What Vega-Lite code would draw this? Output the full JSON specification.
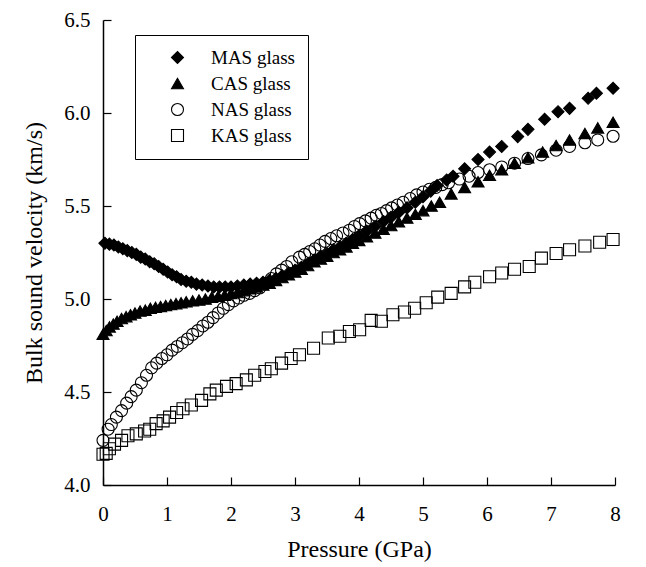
{
  "$schema": "https://vega.github.io/schema/vega-lite/v6.json",
  "autosize": "none",
  "width": 512,
  "height": 465,
  "padding": {"left": 103, "top": 20, "right": 31, "bottom": 82},
  "background": "white",
  "config": {
    "view": {"stroke": null},
    "font": "Liberation Serif",
    "axis": {"grid": false, "domainColor": "black", "domainWidth": 1.5, "tickColor": "black", "tickWidth": 1.2, "tickSize": -8, "labelColor": "black", "titleColor": "black", "labelFont": "Liberation Serif", "titleFont": "Liberation Serif", "labelFontSize": 21, "titleFontSize": 24, "titleFontWeight": "normal"},
    "legend": {"title": null, "orient": "none", "legendX": 32, "legendY": 15, "strokeColor": "black", "padding": 13, "symbolOffset": 20, "labelOffset": 24, "labelFont": "Liberation Serif", "labelFontSize": 19, "labelColor": "black", "rowPadding": 6, "symbolSize": 144, "symbolStrokeColor": "black", "symbolStrokeWidth": 1.1, "fillColor": "white"}
  },
  "data": {"values": [
    {"s":"KAS glass","p":0.0,"v":4.165},{"s":"KAS glass","p":0.05,"v":4.17},{"s":"KAS glass","p":0.1,"v":4.195},{"s":"KAS glass","p":0.18,"v":4.22},{"s":"KAS glass","p":0.29,"v":4.24},{"s":"KAS glass","p":0.39,"v":4.265},{"s":"KAS glass","p":0.52,"v":4.275},{"s":"KAS glass","p":0.65,"v":4.29},{"s":"KAS glass","p":0.73,"v":4.3},{"s":"KAS glass","p":0.83,"v":4.33},{"s":"KAS glass","p":0.94,"v":4.345},{"s":"KAS glass","p":1.04,"v":4.365},{"s":"KAS glass","p":1.15,"v":4.39},{"s":"KAS glass","p":1.25,"v":4.41},{"s":"KAS glass","p":1.38,"v":4.43},{"s":"KAS glass","p":1.54,"v":4.455},{"s":"KAS glass","p":1.67,"v":4.49},{"s":"KAS glass","p":1.77,"v":4.51},{"s":"KAS glass","p":1.93,"v":4.53},{"s":"KAS glass","p":2.08,"v":4.545},{"s":"KAS glass","p":2.24,"v":4.565},{"s":"KAS glass","p":2.37,"v":4.59},{"s":"KAS glass","p":2.53,"v":4.61},{"s":"KAS glass","p":2.63,"v":4.625},{"s":"KAS glass","p":2.79,"v":4.655},{"s":"KAS glass","p":2.94,"v":4.68},{"s":"KAS glass","p":3.07,"v":4.7},{"s":"KAS glass","p":3.29,"v":4.735},{"s":"KAS glass","p":3.52,"v":4.79},{"s":"KAS glass","p":3.7,"v":4.8},{"s":"KAS glass","p":3.85,"v":4.825},{"s":"KAS glass","p":4.01,"v":4.835},{"s":"KAS glass","p":4.19,"v":4.885},{"s":"KAS glass","p":4.35,"v":4.88},{"s":"KAS glass","p":4.53,"v":4.915},{"s":"KAS glass","p":4.71,"v":4.93},{"s":"KAS glass","p":4.87,"v":4.95},{"s":"KAS glass","p":5.05,"v":4.98},{"s":"KAS glass","p":5.23,"v":5.01},{"s":"KAS glass","p":5.44,"v":5.03},{"s":"KAS glass","p":5.65,"v":5.065},{"s":"KAS glass","p":5.81,"v":5.09},{"s":"KAS glass","p":6.04,"v":5.12},{"s":"KAS glass","p":6.23,"v":5.14},{"s":"KAS glass","p":6.43,"v":5.16},{"s":"KAS glass","p":6.66,"v":5.175},{"s":"KAS glass","p":6.85,"v":5.22},{"s":"KAS glass","p":7.08,"v":5.245},{"s":"KAS glass","p":7.29,"v":5.265},{"s":"KAS glass","p":7.53,"v":5.285},{"s":"KAS glass","p":7.76,"v":5.305},{"s":"KAS glass","p":7.97,"v":5.32},

    {"s":"NAS glass","p":0.0,"v":4.24},{"s":"NAS glass","p":0.08,"v":4.3},{"s":"NAS glass","p":0.13,"v":4.325},{"s":"NAS glass","p":0.21,"v":4.365},{"s":"NAS glass","p":0.29,"v":4.4},{"s":"NAS glass","p":0.37,"v":4.44},{"s":"NAS glass","p":0.44,"v":4.475},{"s":"NAS glass","p":0.52,"v":4.51},{"s":"NAS glass","p":0.6,"v":4.55},{"s":"NAS glass","p":0.68,"v":4.59},{"s":"NAS glass","p":0.76,"v":4.63},{"s":"NAS glass","p":0.84,"v":4.655},{"s":"NAS glass","p":0.92,"v":4.68},{"s":"NAS glass","p":1.0,"v":4.7},{"s":"NAS glass","p":1.08,"v":4.725},{"s":"NAS glass","p":1.16,"v":4.745},{"s":"NAS glass","p":1.24,"v":4.765},{"s":"NAS glass","p":1.32,"v":4.785},{"s":"NAS glass","p":1.4,"v":4.81},{"s":"NAS glass","p":1.48,"v":4.83},{"s":"NAS glass","p":1.56,"v":4.855},{"s":"NAS glass","p":1.64,"v":4.875},{"s":"NAS glass","p":1.72,"v":4.9},{"s":"NAS glass","p":1.8,"v":4.925},{"s":"NAS glass","p":1.88,"v":4.95},{"s":"NAS glass","p":1.96,"v":4.97},{"s":"NAS glass","p":2.04,"v":4.99},{"s":"NAS glass","p":2.12,"v":5.005},{"s":"NAS glass","p":2.2,"v":5.02},{"s":"NAS glass","p":2.29,"v":5.03},{"s":"NAS glass","p":2.37,"v":5.045},{"s":"NAS glass","p":2.45,"v":5.06},{"s":"NAS glass","p":2.54,"v":5.085},{"s":"NAS glass","p":2.63,"v":5.11},{"s":"NAS glass","p":2.71,"v":5.135},{"s":"NAS glass","p":2.79,"v":5.155},{"s":"NAS glass","p":2.87,"v":5.175},{"s":"NAS glass","p":2.95,"v":5.2},{"s":"NAS glass","p":3.07,"v":5.225},{"s":"NAS glass","p":3.15,"v":5.24},{"s":"NAS glass","p":3.23,"v":5.255},{"s":"NAS glass","p":3.31,"v":5.27},{"s":"NAS glass","p":3.39,"v":5.29},{"s":"NAS glass","p":3.47,"v":5.31},{"s":"NAS glass","p":3.56,"v":5.325},{"s":"NAS glass","p":3.65,"v":5.34},{"s":"NAS glass","p":3.75,"v":5.355},{"s":"NAS glass","p":3.85,"v":5.37},{"s":"NAS glass","p":3.93,"v":5.39},{"s":"NAS glass","p":4.01,"v":5.405},{"s":"NAS glass","p":4.1,"v":5.42},{"s":"NAS glass","p":4.19,"v":5.435},{"s":"NAS glass","p":4.27,"v":5.45},{"s":"NAS glass","p":4.35,"v":5.46},{"s":"NAS glass","p":4.43,"v":5.475},{"s":"NAS glass","p":4.51,"v":5.49},{"s":"NAS glass","p":4.6,"v":5.505},{"s":"NAS glass","p":4.69,"v":5.52},{"s":"NAS glass","p":4.8,"v":5.54},{"s":"NAS glass","p":4.9,"v":5.56},{"s":"NAS glass","p":5.0,"v":5.575},{"s":"NAS glass","p":5.1,"v":5.59},{"s":"NAS glass","p":5.2,"v":5.6},{"s":"NAS glass","p":5.3,"v":5.615},{"s":"NAS glass","p":5.4,"v":5.625},{"s":"NAS glass","p":5.57,"v":5.645},{"s":"NAS glass","p":5.72,"v":5.66},{"s":"NAS glass","p":5.86,"v":5.68},{"s":"NAS glass","p":6.04,"v":5.695},{"s":"NAS glass","p":6.23,"v":5.71},{"s":"NAS glass","p":6.43,"v":5.73},{"s":"NAS glass","p":6.64,"v":5.755},{"s":"NAS glass","p":6.85,"v":5.775},{"s":"NAS glass","p":7.08,"v":5.8},{"s":"NAS glass","p":7.29,"v":5.82},{"s":"NAS glass","p":7.53,"v":5.84},{"s":"NAS glass","p":7.73,"v":5.855},{"s":"NAS glass","p":7.97,"v":5.875},

    {"s":"CAS glass","p":0.0,"v":4.81},{"s":"CAS glass","p":0.05,"v":4.83},{"s":"CAS glass","p":0.1,"v":4.85},{"s":"CAS glass","p":0.16,"v":4.865},{"s":"CAS glass","p":0.22,"v":4.88},{"s":"CAS glass","p":0.29,"v":4.895},{"s":"CAS glass","p":0.36,"v":4.905},{"s":"CAS glass","p":0.43,"v":4.915},{"s":"CAS glass","p":0.5,"v":4.925},{"s":"CAS glass","p":0.58,"v":4.935},{"s":"CAS glass","p":0.66,"v":4.94},{"s":"CAS glass","p":0.74,"v":4.95},{"s":"CAS glass","p":0.82,"v":4.955},{"s":"CAS glass","p":0.9,"v":4.96},{"s":"CAS glass","p":0.98,"v":4.965},{"s":"CAS glass","p":1.06,"v":4.97},{"s":"CAS glass","p":1.14,"v":4.975},{"s":"CAS glass","p":1.22,"v":4.98},{"s":"CAS glass","p":1.3,"v":4.985},{"s":"CAS glass","p":1.4,"v":4.99},{"s":"CAS glass","p":1.5,"v":4.995},{"s":"CAS glass","p":1.6,"v":5.0},{"s":"CAS glass","p":1.7,"v":5.01},{"s":"CAS glass","p":1.8,"v":5.015},{"s":"CAS glass","p":1.9,"v":5.02},{"s":"CAS glass","p":2.0,"v":5.03},{"s":"CAS glass","p":2.1,"v":5.035},{"s":"CAS glass","p":2.2,"v":5.045},{"s":"CAS glass","p":2.3,"v":5.055},{"s":"CAS glass","p":2.4,"v":5.065},{"s":"CAS glass","p":2.5,"v":5.075},{"s":"CAS glass","p":2.6,"v":5.085},{"s":"CAS glass","p":2.7,"v":5.1},{"s":"CAS glass","p":2.8,"v":5.115},{"s":"CAS glass","p":2.9,"v":5.13},{"s":"CAS glass","p":3.0,"v":5.145},{"s":"CAS glass","p":3.1,"v":5.16},{"s":"CAS glass","p":3.2,"v":5.18},{"s":"CAS glass","p":3.3,"v":5.2},{"s":"CAS glass","p":3.4,"v":5.215},{"s":"CAS glass","p":3.5,"v":5.23},{"s":"CAS glass","p":3.6,"v":5.25},{"s":"CAS glass","p":3.7,"v":5.265},{"s":"CAS glass","p":3.8,"v":5.28},{"s":"CAS glass","p":3.9,"v":5.3},{"s":"CAS glass","p":4.0,"v":5.315},{"s":"CAS glass","p":4.12,"v":5.335},{"s":"CAS glass","p":4.25,"v":5.355},{"s":"CAS glass","p":4.38,"v":5.375},{"s":"CAS glass","p":4.5,"v":5.395},{"s":"CAS glass","p":4.62,"v":5.415},{"s":"CAS glass","p":4.75,"v":5.435},{"s":"CAS glass","p":4.88,"v":5.455},{"s":"CAS glass","p":5.0,"v":5.475},{"s":"CAS glass","p":5.13,"v":5.5},{"s":"CAS glass","p":5.26,"v":5.52},{"s":"CAS glass","p":5.44,"v":5.565},{"s":"CAS glass","p":5.65,"v":5.6},{"s":"CAS glass","p":5.86,"v":5.63},{"s":"CAS glass","p":6.04,"v":5.665},{"s":"CAS glass","p":6.23,"v":5.695},{"s":"CAS glass","p":6.43,"v":5.73},{"s":"CAS glass","p":6.64,"v":5.76},{"s":"CAS glass","p":6.87,"v":5.79},{"s":"CAS glass","p":7.08,"v":5.825},{"s":"CAS glass","p":7.29,"v":5.855},{"s":"CAS glass","p":7.53,"v":5.89},{"s":"CAS glass","p":7.73,"v":5.92},{"s":"CAS glass","p":7.97,"v":5.95},

    {"s":"MAS glass","p":0.03,"v":5.3},{"s":"MAS glass","p":0.1,"v":5.295},{"s":"MAS glass","p":0.17,"v":5.29},{"s":"MAS glass","p":0.24,"v":5.28},{"s":"MAS glass","p":0.31,"v":5.27},{"s":"MAS glass","p":0.38,"v":5.26},{"s":"MAS glass","p":0.45,"v":5.25},{"s":"MAS glass","p":0.52,"v":5.24},{"s":"MAS glass","p":0.59,"v":5.225},{"s":"MAS glass","p":0.66,"v":5.215},{"s":"MAS glass","p":0.73,"v":5.2},{"s":"MAS glass","p":0.8,"v":5.19},{"s":"MAS glass","p":0.87,"v":5.175},{"s":"MAS glass","p":0.94,"v":5.16},{"s":"MAS glass","p":1.01,"v":5.145},{"s":"MAS glass","p":1.08,"v":5.13},{"s":"MAS glass","p":1.15,"v":5.12},{"s":"MAS glass","p":1.22,"v":5.105},{"s":"MAS glass","p":1.3,"v":5.095},{"s":"MAS glass","p":1.38,"v":5.09},{"s":"MAS glass","p":1.46,"v":5.08},{"s":"MAS glass","p":1.55,"v":5.075},{"s":"MAS glass","p":1.64,"v":5.07},{"s":"MAS glass","p":1.73,"v":5.065},{"s":"MAS glass","p":1.82,"v":5.065},{"s":"MAS glass","p":1.91,"v":5.065},{"s":"MAS glass","p":2.0,"v":5.065},{"s":"MAS glass","p":2.1,"v":5.07},{"s":"MAS glass","p":2.2,"v":5.075},{"s":"MAS glass","p":2.3,"v":5.08},{"s":"MAS glass","p":2.4,"v":5.085},{"s":"MAS glass","p":2.5,"v":5.09},{"s":"MAS glass","p":2.6,"v":5.1},{"s":"MAS glass","p":2.7,"v":5.11},{"s":"MAS glass","p":2.8,"v":5.125},{"s":"MAS glass","p":2.9,"v":5.14},{"s":"MAS glass","p":3.0,"v":5.155},{"s":"MAS glass","p":3.1,"v":5.17},{"s":"MAS glass","p":3.2,"v":5.19},{"s":"MAS glass","p":3.3,"v":5.21},{"s":"MAS glass","p":3.4,"v":5.23},{"s":"MAS glass","p":3.5,"v":5.245},{"s":"MAS glass","p":3.6,"v":5.265},{"s":"MAS glass","p":3.7,"v":5.28},{"s":"MAS glass","p":3.8,"v":5.3},{"s":"MAS glass","p":3.9,"v":5.32},{"s":"MAS glass","p":4.0,"v":5.34},{"s":"MAS glass","p":4.12,"v":5.365},{"s":"MAS glass","p":4.25,"v":5.39},{"s":"MAS glass","p":4.38,"v":5.415},{"s":"MAS glass","p":4.5,"v":5.44},{"s":"MAS glass","p":4.62,"v":5.465},{"s":"MAS glass","p":4.75,"v":5.49},{"s":"MAS glass","p":4.88,"v":5.52},{"s":"MAS glass","p":5.0,"v":5.55},{"s":"MAS glass","p":5.12,"v":5.58},{"s":"MAS glass","p":5.22,"v":5.61},{"s":"MAS glass","p":5.37,"v":5.64},{"s":"MAS glass","p":5.47,"v":5.66},{"s":"MAS glass","p":5.65,"v":5.7},{"s":"MAS glass","p":5.86,"v":5.75},{"s":"MAS glass","p":6.04,"v":5.79},{"s":"MAS glass","p":6.23,"v":5.82},{"s":"MAS glass","p":6.48,"v":5.873},{"s":"MAS glass","p":6.64,"v":5.912},{"s":"MAS glass","p":6.9,"v":5.966},{"s":"MAS glass","p":7.11,"v":6.007},{"s":"MAS glass","p":7.29,"v":6.025},{"s":"MAS glass","p":7.58,"v":6.079},{"s":"MAS glass","p":7.71,"v":6.106},{"s":"MAS glass","p":7.97,"v":6.133}
  ]},
  "mark": {"type": "point", "filled": false, "size": 144, "strokeWidth": 1.1, "opacity": 1},
  "encoding": {
    "x": {"field": "p", "type": "quantitative", "title": "Pressure (GPa)",
      "scale": {"domain": [0, 8], "nice": false, "zero": false},
      "axis": {"values": [0,1,2,3,4,5,6,7,8], "format": "d", "labelPadding": 26, "titlePadding": 13, "labelFlush": false}},
    "y": {"field": "v", "type": "quantitative", "title": "Bulk sound velocity (km/s)",
      "scale": {"domain": [4, 6.5], "nice": false, "zero": false},
      "axis": {"values": [4.0,4.5,5.0,5.5,6.0,6.5], "format": ".1f", "labelPadding": 21, "titlePadding": 17, "labelFlush": false}},
    "shape": {"field": "s", "type": "nominal", "title": null,
      "scale": {"domain": ["MAS glass","CAS glass","NAS glass","KAS glass"], "range": ["diamond","triangle-up","circle","square"]}},
    "fill": {"field": "s", "type": "nominal", "title": null,
      "scale": {"domain": ["MAS glass","CAS glass","NAS glass","KAS glass"], "range": ["black","black","transparent","transparent"]}},
    "stroke": {"field": "s", "type": "nominal", "title": null,
      "scale": {"domain": ["MAS glass","CAS glass","NAS glass","KAS glass"], "range": ["black","black","black","black"]}}
  }
}
